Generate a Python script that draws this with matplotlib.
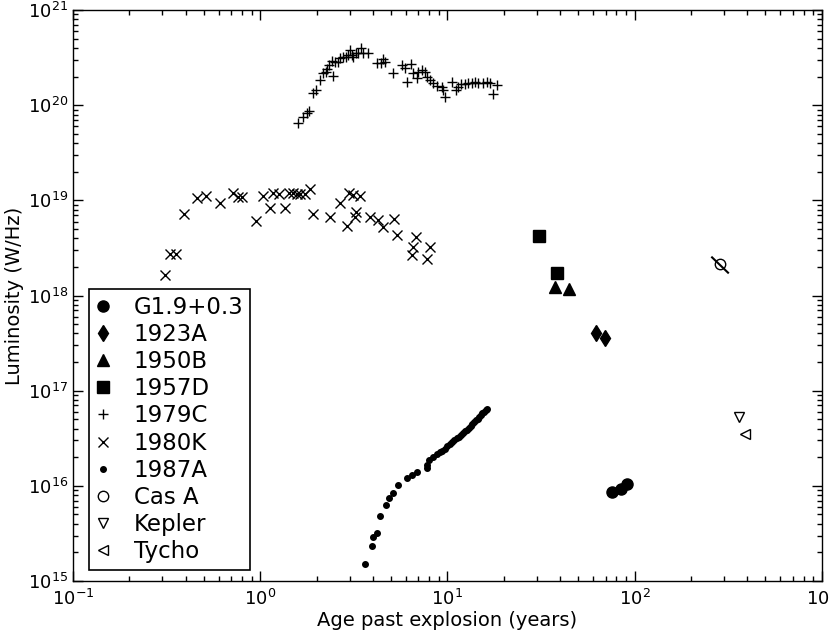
import matplotlib
matplotlib.use("Agg")
import matplotlib.pyplot as plt

# ---- data ----
g19_age = [76.2, 84.5, 90.6]
g19_lum = [8.68e15, 9.2e15, 1.045e16]

sn1923a_age = [62.1, 69.4]
sn1923a_lum = [4.07e17, 3.55e17]

sn1950b_age = [37.4, 44.7]
sn1950b_lum = [1.22e18, 1.17e18]

sn1957d_age = [30.8, 38.3]
sn1957d_lum = [4.25e18, 1.74e18]

sn1979c_age = [1.597, 1.698, 1.771, 1.821, 1.920, 1.978, 2.085, 2.172, 2.245, 2.281,
               2.455, 2.338, 2.408, 2.508, 2.611, 2.667, 2.756, 2.871, 2.953, 3.016,
               3.079, 3.140, 3.246, 3.339, 3.439, 3.526, 3.776, 4.187, 4.415, 4.508,
               4.637, 5.097, 5.693, 5.930, 6.055, 6.385, 6.568, 6.849, 6.986, 7.284,
               7.585, 7.745, 8.064, 8.337, 8.757, 9.312, 9.497, 9.696, 10.53, 11.10,
               11.42, 11.77, 12.40, 12.91, 13.46, 14.02, 14.60, 15.53, 16.19, 16.87,
               17.43, 18.31]
sn1979c_lum = [6.45e19, 7.46e19, 8.21e19, 8.68e19, 1.35e20, 1.44e20, 1.84e20, 2.16e20, 2.25e20, 2.38e20,
               2.03e20, 2.64e20, 2.93e20, 2.86e20, 2.86e20, 3.11e20, 3.23e20, 3.23e20, 3.37e20, 3.80e20,
               3.37e20, 3.23e20, 3.51e20, 3.51e20, 3.96e20, 3.51e20, 3.51e20, 2.79e20, 2.79e20, 3.03e20,
               2.86e20, 2.16e20, 2.64e20, 2.44e20, 1.77e20, 2.69e20, 2.19e20, 1.92e20, 2.25e20, 2.34e20,
               2.25e20, 1.99e20, 1.84e20, 1.70e20, 1.59e20, 1.56e20, 1.44e20, 1.23e20, 1.77e20, 1.44e20,
               1.54e20, 1.66e20, 1.67e20, 1.70e20, 1.70e20, 1.77e20, 1.70e20, 1.72e20, 1.77e20, 1.72e20,
               1.33e20, 1.63e20]

sn1980k_age = [0.310, 0.330, 0.355, 0.3915, 0.4612, 0.513, 0.610, 0.7127, 0.7636, 0.796,
               0.949, 1.031, 1.127, 1.166, 1.264, 1.356, 1.429, 1.501, 1.565, 1.631,
               1.734, 1.844, 1.906, 2.358, 2.667, 2.990, 3.140, 3.410, 3.246, 3.206,
               2.917, 3.856, 4.270, 4.541, 5.180, 5.354, 6.79, 6.568, 6.44, 8.064,
               7.745]
sn1980k_lum = [1.64e18, 2.73e18, 2.73e18, 7.19e18, 1.05e19, 1.11e19, 9.45e18, 1.20e19, 1.09e19, 1.09e19,
               6.07e18, 1.11e19, 8.25e18, 1.20e19, 1.17e19, 8.25e18, 1.19e19, 1.19e19, 1.17e19, 1.17e19,
               1.17e19, 1.31e19, 7.19e18, 6.64e18, 9.45e18, 1.20e19, 1.14e19, 1.11e19, 7.60e18, 6.73e18,
               5.37e18, 6.73e18, 6.21e18, 5.21e18, 6.32e18, 4.32e18, 4.15e18, 3.26e18, 2.67e18, 3.21e18,
               2.40e18]

sn1987a_age = [3.626, 3.937, 3.986, 4.187, 4.361, 4.694, 4.889, 5.135, 5.460, 6.100,
               6.44, 6.849, 7.745, 7.745, 8.0, 8.4, 8.8, 9.1, 9.4, 9.7,
               10.0, 10.3, 10.6, 10.9, 11.2, 11.5, 11.8, 12.1, 12.4, 12.7,
               13.0, 13.3, 13.6, 13.9, 14.2, 14.5, 14.8, 15.1, 15.4, 15.7,
               16.0, 16.2]
sn1987a_lum = [1.51e15, 2.33e15, 2.92e15, 3.17e15, 4.82e15, 6.29e15, 7.51e15, 8.47e15, 1.02e16, 1.20e16,
               1.30e16, 1.41e16, 1.53e16, 1.66e16, 1.85e16, 2.0e16, 2.15e16, 2.25e16, 2.35e16, 2.45e16,
               2.6e16, 2.75e16, 2.9e16, 3.0e16, 3.15e16, 3.3e16, 3.45e16, 3.6e16, 3.75e16, 3.9e16,
               4.05e16, 4.25e16, 4.45e16, 4.65e16, 4.9e16, 5.1e16, 5.3e16, 5.55e16, 5.8e16, 6.0e16,
               6.25e16, 6.4e16]

casa_age = [286.4]
casa_lum = [2.13e18]
casa_track_age = [259.6, 315.9]
casa_track_lum = [2.52e18, 1.74e18]

kepler_age = [360.3]
kepler_lum = [5.25e16]

tycho_age = [391.3]
tycho_lum = [3.48e16]

# ---- plot ----
plt.rcParams['font.family'] = ['DejaVu Sans']
fig = plt.figure(figsize=(8.3, 6.34), dpi=100)
ax = fig.add_axes([0.088, 0.0836, 0.902, 0.9004])

k = 'black'
ax.plot(g19_age, g19_lum, 'o', color=k, ms=8, label='G1.9+0.3')
ax.plot(sn1923a_age, sn1923a_lum, 'd', color=k, ms=8, label='1923A')
ax.plot(sn1950b_age, sn1950b_lum, '^', color=k, ms=8, label='1950B')
ax.plot(sn1957d_age, sn1957d_lum, 's', color=k, ms=8, label='1957D')
ax.plot(sn1979c_age, sn1979c_lum, '+', color=k, ms=7, mew=1.0, label='1979C')
ax.plot(sn1980k_age, sn1980k_lum, 'x', color=k, ms=6.5, mew=1.0, label='1980K')
ax.plot(sn1987a_age, sn1987a_lum, '.', color=k, ms=8, label='1987A')
ax.plot(casa_age, casa_lum, 'o', mfc='none', mec=k, ms=7.5, mew=1.0, label='Cas A')
ax.plot(casa_track_age, casa_track_lum, '-', color=k, lw=1.5)
ax.plot(kepler_age, kepler_lum, 'v', mfc='none', mec=k, ms=7.5, mew=1.0, label='Kepler')
ax.plot(tycho_age, tycho_lum, '<', mfc='none', mec=k, ms=7.5, mew=1.0, label='Tycho')

ax.set_xscale('log')
ax.set_yscale('log')
ax.set_xlim(0.1, 1000)
ax.set_ylim(1e15, 1e21)
ax.set_xlabel('Age past explosion (years)', fontsize=14, labelpad=1)
ax.set_ylabel('Luminosity (W/Hz)', fontsize=14, labelpad=3)
ax.tick_params(which='both', direction='in', top=True, right=True, labelsize=13)
ax.tick_params(which='major', length=7, width=1)
ax.tick_params(which='minor', length=3.5, width=1)
ax.tick_params(axis='x', pad=6)
for s in ax.spines.values():
    s.set_linewidth(1.0)

leg = ax.legend(loc='lower left', bbox_to_anchor=(0.0214, 0.0193), borderaxespad=0,
                numpoints=1, fontsize=16.5, fancybox=False,
                frameon=True, edgecolor='black', framealpha=1, markerscale=1.0,
                labelspacing=0.18, handlelength=0.65, handletextpad=1.0,
                borderpad=0.3)
leg.get_frame().set_linewidth(1.2)

fig.savefig('out.png', dpi=100)
